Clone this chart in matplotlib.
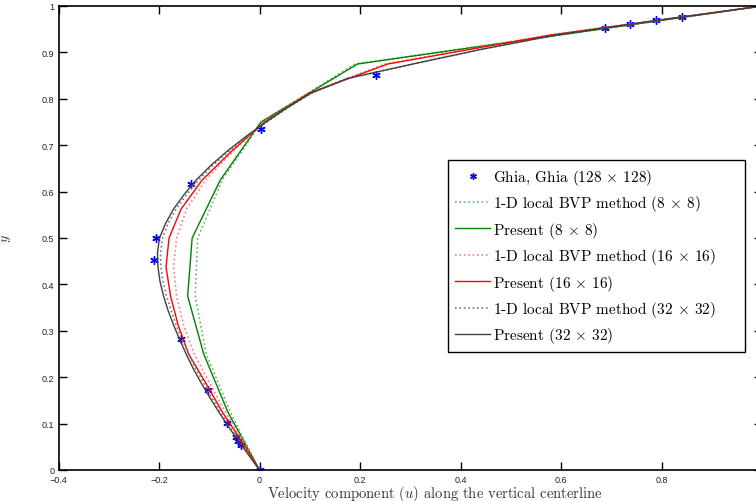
import numpy as np
import matplotlib
matplotlib.use('Agg')
import matplotlib.pyplot as plt

plt.rcParams['mathtext.fontset'] = 'cm'

# Ghia, Ghia (128 x 128) - u along vertical centerline
ghia_y = [1.0, 0.9766, 0.9688, 0.9609, 0.9531, 0.8516, 0.7344, 0.6172, 0.5000,
          0.4531, 0.2813, 0.1719, 0.1016, 0.0703, 0.0625, 0.0547, 0.0]
ghia_u = [1.0, 0.84123, 0.78871, 0.73722, 0.68717, 0.23151, 0.00332, -0.13641, -0.20581,
          -0.21090, -0.15662, -0.10150, -0.06434, -0.04775, -0.04192, -0.03717, 0.0]

# 8 x 8
y8 = [0, 0.125, 0.25, 0.375, 0.5, 0.625, 0.75, 0.875, 1.0]
u8_bvp = [0, -0.058, -0.106, -0.128, -0.123, -0.074, 0.004, 0.19, 1.0]
u8_present = [0, -0.063, -0.111, -0.143, -0.134, -0.078, 0.003, 0.195, 1.0]

# 16 x 16
y16 = [0, 0.0625, 0.125, 0.1875, 0.25, 0.3125, 0.375, 0.4375, 0.5, 0.5625,
       0.625, 0.6875, 0.75, 0.8125, 0.875, 0.9375, 1.0]
u16_bvp = [0, -0.033, -0.068, -0.099, -0.130, -0.151, -0.165, -0.171, -0.165, -0.145,
           -0.107, -0.052, 0.011, 0.097, 0.25, 0.575, 1.0]
u16_present = [0, -0.036, -0.074, -0.107, -0.141, -0.162, -0.177, -0.186, -0.180, -0.156,
               -0.114, -0.055, 0.010, 0.100, 0.255, 0.58, 1.0]

# 32 x 32
y32 = [0, 0.03125, 0.0625, 0.09375, 0.125, 0.15625, 0.1875, 0.21875, 0.25, 0.28125,
       0.3125, 0.34375, 0.375, 0.40625, 0.4375, 0.46875, 0.5, 0.53125, 0.5625, 0.59375,
       0.625, 0.65625, 0.6875, 0.71875, 0.75, 0.78125, 0.8125, 0.84375, 0.875, 0.90625,
       0.9375, 0.96875, 1.0]
u32_bvp = [0, -0.020, -0.040, -0.060, -0.078, -0.095, -0.111, -0.127, -0.141, -0.154,
           -0.166, -0.176, -0.185, -0.192, -0.196, -0.197, -0.193, -0.182, -0.166, -0.145,
           -0.121, -0.093, -0.060, -0.024, 0.015, 0.057, 0.104, 0.176, 0.305, 0.44,
           0.59, 0.79, 1.0]
u32_present = [0, -0.021, -0.042, -0.062, -0.081, -0.099, -0.116, -0.132, -0.146, -0.159,
               -0.171, -0.182, -0.191, -0.198, -0.202, -0.203, -0.199, -0.187, -0.171, -0.150,
               -0.126, -0.097, -0.064, -0.027, 0.013, 0.056, 0.103, 0.175, 0.305, 0.44,
               0.59, 0.79, 1.0]

xticks = [-0.4, -0.2, 0, 0.2, 0.4, 0.6, 0.8, 1.0]
xtick_labels = ['\u22120.4', '\u22120.2', '0', '0.2', '0.4', '0.6', '0.8', '']
yticks = [0, 0.1, 0.2, 0.3, 0.4, 0.5, 0.6, 0.7, 0.8, 0.9, 1.0]
ytick_labels = ['0', '0.1', '0.2', '0.3', '0.4', '0.5', '0.6', '0.7', '0.8', '0.9', '1']

labels = ['Ghia, Ghia (128 $\\times$ 128)',
          '1-D local BVP method (8 $\\times$ 8)',
          'Present (8 $\\times$ 8)',
          '1-D local BVP method (16 $\\times$ 16)',
          'Present (16 $\\times$ 16)',
          '1-D local BVP method (32 $\\times$ 32)',
          'Present (32 $\\times$ 32)']

fig = plt.figure(figsize=(7.56, 5.02), dpi=100)
ax = fig.add_axes([58.5 / 756, 31 / 502, 703.5 / 756, 464 / 502])

ax.plot(ghia_u, ghia_y, linestyle='none', marker=(6, 2, 0), markersize=6,
        markeredgewidth=1.0, color='#0000ff', label=labels[0])
ax.plot(u8_bvp, y8, ':', color='#60b860', lw=1.2, label=labels[1])
ax.plot(u8_present, y8, '-', color='#008000', lw=1.0, label=labels[2])
ax.plot(u16_bvp, y16, ':', color='#ff7a7a', lw=1.2, label=labels[3])
ax.plot(u16_present, y16, '-', color='#ff0000', lw=1.0, label=labels[4])
ax.plot(u32_bvp, y32, ':', color='#787878', lw=1.2, label=labels[5])
ax.plot(u32_present, y32, '-', color='#404040', lw=1.0, label=labels[6])

ax.set_xlim(-0.4, 1.0)
ax.set_ylim(0, 1.0)
ax.set_xticks(xticks)
ax.set_xticklabels(xtick_labels, family='Liberation Sans')
ax.set_yticks(yticks)
ax.set_yticklabels(ytick_labels, family='Liberation Sans')
ax.tick_params(direction='in', length=6, width=1, top=True, right=True,
               labelsize=6.5, colors='black', labelcolor='#222222')
ax.tick_params(axis='x', pad=3.5)
ax.tick_params(axis='y', pad=3)
for sp in ax.spines.values():
    sp.set_linewidth(1.2)

ax.set_xlabel('Velocity component ($u$) along the vertical centerline',
              fontsize=10.5, family='cmr10', color='#333333')
ax.xaxis.set_label_coords(0.535, -0.027)
ax.set_ylabel('$y$', fontsize=10, color='#333333')
ax.yaxis.set_label_coords(-0.064, 0.5)

# box stretched to the width of the original legend
leg = ax.legend(loc='upper left', bbox_to_anchor=(0.554, 0.254, 0.422, 0.414),
                mode='expand', prop={'family': 'cmr10', 'size': 11},
                frameon=True, fancybox=False, edgecolor='black', framealpha=1,
                handlelength=2.3, handletextpad=0.15, labelspacing=0.42,
                borderpad=0.45, borderaxespad=0, markerscale=0.8)
leg.get_frame().set_linewidth(1.0)

fig.savefig('out.png', dpi=100)
